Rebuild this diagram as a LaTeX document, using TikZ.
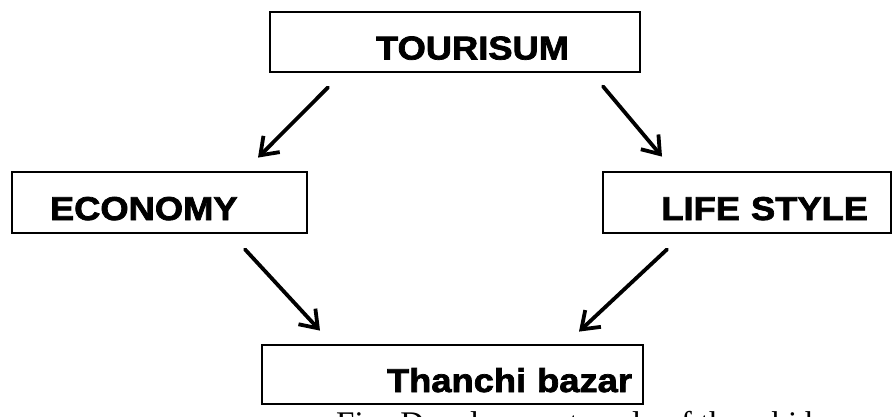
\documentclass[tikz,border=0pt]{standalone}
\usepackage{fontspec}
\setmainfont{Liberation Serif}
\newfontfamily\boxfont{Liberation Sans}[FakeStretch=1.1,FakeBold=2.2]
\usetikzlibrary{positioning}
\usetikzlibrary{arrows.meta}
\tikzset{
  box/.style 2 args={
    draw,
    line width=2.8pt,
    rectangle,
    inner sep=0pt,
    minimum width=#1,
    text width=#2,
    text height=35pt,
    text depth=0pt,
    font=\boxfont\bfseries\fontsize{33}{38}\selectfont},
}

\begin{document}
\begin{tikzpicture}[
  x=1pt, y=-1pt,
  arr/.style={line width=3.8pt, line cap=round, line join=round,
    -{Straight Barb[length=16pt,width=23pt,line width=3.8pt]}},
  caption/.style={font=\fontsize{33}{38}\selectfont, inner sep=0pt}]
  \useasboundingbox (0,0) rectangle (893,417);
  \clip (0,0) rectangle (893,417);

  \node[box={370pt}{228pt}, minimum height=60pt, align=right] (tour) at (455,42) {TOURISUM};
  \node[box={295pt}{219pt}, minimum height=61pt, align=left] (econ) at (159.5,202.5) {ECONOMY};
  \node[box={288pt}{242pt}, minimum height=61pt, align=right] (life) at (747,202.5) {LIFE STYLE};
  \node[box={381pt}{359pt}, minimum height=59pt, align=right] (bazar) at (452.5,374.5) {Thanchi bazar};

  % links
  \draw[arr] ([xshift=-127pt,yshift=-14pt]tour.south) -- ([xshift=98.5pt,yshift=13pt]econ.north);
  \draw[arr] ([xshift=148pt,yshift=-13pt]tour.south) -- ([xshift=-85pt,yshift=14pt]life.north);
  \draw[arr] ([xshift=85.5pt,yshift=-15pt]econ.south) -- ([xshift=-132.5pt,yshift=13pt]bazar.north);
  \draw[arr] ([xshift=-80pt,yshift=-15pt]life.south) -- ([xshift=126.5pt,yshift=12pt]bazar.north);

  \node[caption, anchor=base west] (cap) at (336,434) {Fig: Development cycle of thanchi bazar};
\end{tikzpicture}
\end{document}
